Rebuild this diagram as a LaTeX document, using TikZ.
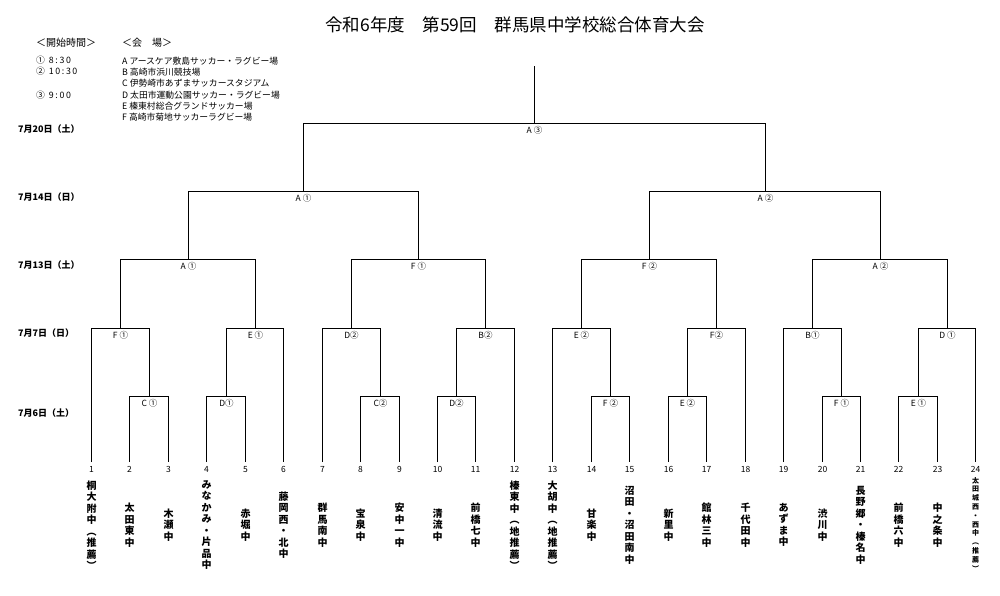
\documentclass[tikz,border=0pt]{standalone}
\usepackage{fontspec}
\setmainfont{Noto Sans CJK JP}
\usetikzlibrary{calc}
\newcommand\bm[5]{%
  \path let \p1=($(#2)!.5!(#3)$), \p2=(#4) in
    coordinate (#1) at ({(floor(\x1)+0.5)*1pt},\y2);
  \draw[br] (#2) |- (#1) -| (#3);
  \node[lbl] (#1l) at ([yshift=-6.5pt]#1) {#5};
}
\newcommand\lsp[1]{\kern1.6pt#1}
\begin{document}
\begin{tikzpicture}[x=1pt,y=-1pt,
  br/.style={draw=black,line width=1.5pt},
  lbl/.style={font=\fontsize{8.5}{9}\selectfont,inner sep=0pt},
  num/.style={font=\fontsize{8.5}{9}\selectfont,inner sep=0pt},
  team/.style={font=\fontsize{10}{11.5}\selectfont\bfseries,align=center,inner sep=0pt},
  steam/.style={font=\fontsize{7}{8.8}\selectfont\bfseries,align=center,inner sep=0pt},
  date/.style={font=\fontsize{9}{10}\selectfont\bfseries,anchor=west,inner sep=0pt},
  leg/.style={font=\fontsize{8.8}{10}\selectfont,anchor=west,inner sep=0pt},
  head/.style={font=\fontsize{10}{11}\selectfont,anchor=west,inner sep=0pt}]
\useasboundingbox (0,0) rectangle (1000,595);
% title
\node[font=\fontsize{17.5}{20}\selectfont,inner sep=0pt] (title) at (515,25) {令和6年度　第59回　群馬県中学校総合体育大会};
% legend
\node[head] (lg1) at (36,43) {＜開始時間＞};
\node[head] (lg2) at (122,43) {＜会　場＞};
\node[leg] (tm1) at (36,60) {①\hspace{4pt}8\lsp{:}\lsp{3}\lsp{0}};
\node[leg] (tm2) at (36,71) {②\hspace{4pt}1\lsp{0}\lsp{:}\lsp{3}\lsp{0}};
\node[leg] (tm3) at (36,95) {③\hspace{4pt}9\lsp{:}\lsp{0}\lsp{0}};
\node[leg] (va) at (122,61) {A アースケア敷島サッカー・ラグビー場};
\node[leg] (vb) at (122,72) {B 高崎市浜川競技場};
\node[leg] (vc) at (122,83.5) {C 伊勢崎市あずまサッカースタジアム};
\node[leg] (vd) at (122,95) {D 太田市運動公園サッカー・ラグビー場};
\node[leg] (ve) at (122,106) {E 榛東村総合グランドサッカー場};
\node[leg] (vf) at (122,117) {F 高崎市菊地サッカーラグビー場};
% dates
\node[date] (dt5) at (18,129) {7月20日（土）};
\node[date] (dt4) at (18,197) {7月14日（日）};
\node[date] (dt3) at (18,265) {7月13日（土）};
\node[date] (dt2) at (18,333) {7月7日（日）};
\node[date] (dt1) at (18,413) {7月6日（土）};
% levels
\coordinate (L1) at (0,396.5);
\coordinate (L2) at (0,328.5);
\coordinate (L3) at (0,259.5);
\coordinate (L4) at (0,191.5);
\coordinate (L5) at (0,123.5);
\coordinate (T) at (0,66);
% teams
\foreach \i in {1,...,24}{
  \pgfmathsetmacro\xx{round(91+(\i-1)*38.45)+0.5}
  \coordinate (t\i) at (\xx,462);
  \node[num] (n\i) at (\xx,469.5) {\i};
}
\node[team] (s1) at (t1 |- 0,525) {桐\\大\\附\\中\\︵\\推\\薦\\︶};
\node[team] (s2) at (t2 |- 0,525) {太\\田\\東\\中};
\node[team] (s3) at (t3 |- 0,525) {木\\瀬\\中};
\node[team] (s4) at (t4 |- 0,525) {み\\な\\か\\み\\・\\片\\品\\中};
\node[team] (s5) at (t5 |- 0,525) {赤\\堀\\中};
\node[team] (s6) at (t6 |- 0,525) {藤\\岡\\西\\・\\北\\中};
\node[team] (s7) at (t7 |- 0,525) {群\\馬\\南\\中};
\node[team] (s8) at (t8 |- 0,525) {宝\\泉\\中};
\node[team] (s9) at (t9 |- 0,525) {安\\中\\一\\中};
\node[team] (s10) at (t10 |- 0,525) {清\\流\\中};
\node[team] (s11) at (t11 |- 0,525) {前\\橋\\七\\中};
\node[team] (s12) at (t12 |- 0,525) {榛\\東\\中\\︵\\地\\推\\薦\\︶};
\node[team] (s13) at (t13 |- 0,525) {大\\胡\\中\\︵\\地\\推\\薦\\︶};
\node[team] (s14) at (t14 |- 0,525) {甘\\楽\\中};
\node[team] (s15) at (t15 |- 0,525) {沼\\田\\・\\沼\\田\\南\\中};
\node[team] (s16) at (t16 |- 0,525) {新\\里\\中};
\node[team] (s17) at (t17 |- 0,525) {館\\林\\三\\中};
\node[team] (s18) at (t18 |- 0,525) {千\\代\\田\\中};
\node[team] (s19) at (t19 |- 0,525) {あ\\ず\\ま\\中};
\node[team] (s20) at (t20 |- 0,525) {渋\\川\\中};
\node[team] (s21) at (t21 |- 0,525) {長\\野\\郷\\・\\榛\\名\\中};
\node[team] (s22) at (t22 |- 0,525) {前\\橋\\六\\中};
\node[team] (s23) at (t23 |- 0,525) {中\\之\\条\\中};
\node[steam] (s24) at (t24 |- 0,524) {太\\田\\城\\西\\・\\西\\中\\︵\\推\\薦\\︶};
% quarter 1
\bm{c1}{t2}{t3}{L1}{C ①}
\bm{f1}{t1}{c1}{L2}{F ①}
\bm{d1}{t4}{t5}{L1}{D①}
\bm{e1}{d1}{t6}{L2}{E ①}
\bm{qa}{f1}{e1}{L3}{A ①}
% quarter 2
\bm{c2}{t8}{t9}{L1}{C②}
\bm{d2}{t7}{c2}{L2}{D②}
\bm{d3}{t10}{t11}{L1}{D②}
\bm{b2}{d3}{t12}{L2}{B②}
\bm{qb}{d2}{b2}{L3}{F ①}
% quarter 3
\bm{f3}{t14}{t15}{L1}{F ②}
\bm{e3}{t13}{f3}{L2}{E ②}
\bm{e4}{t16}{t17}{L1}{E ②}
\bm{f4}{e4}{t18}{L2}{F②}
\bm{qc}{e3}{f4}{L3}{F ②}
% quarter 4
\bm{f5}{t20}{t21}{L1}{F ①}
\bm{b5}{t19}{f5}{L2}{B①}
\bm{e6}{t22}{t23}{L1}{E ①}
\bm{d6}{e6}{t24}{L2}{D ①}
\bm{qd}{b5}{d6}{L3}{A ②}
% semis and final
\bm{sa}{qa}{qb}{L4}{A ①}
\bm{sb}{qc}{qd}{L4}{A ②}
\bm{fin}{sa}{sb}{L5}{A ③}
\coordinate (top) at (fin |- T);
\draw[br] (fin) -- (top);
\end{tikzpicture}
\end{document}
